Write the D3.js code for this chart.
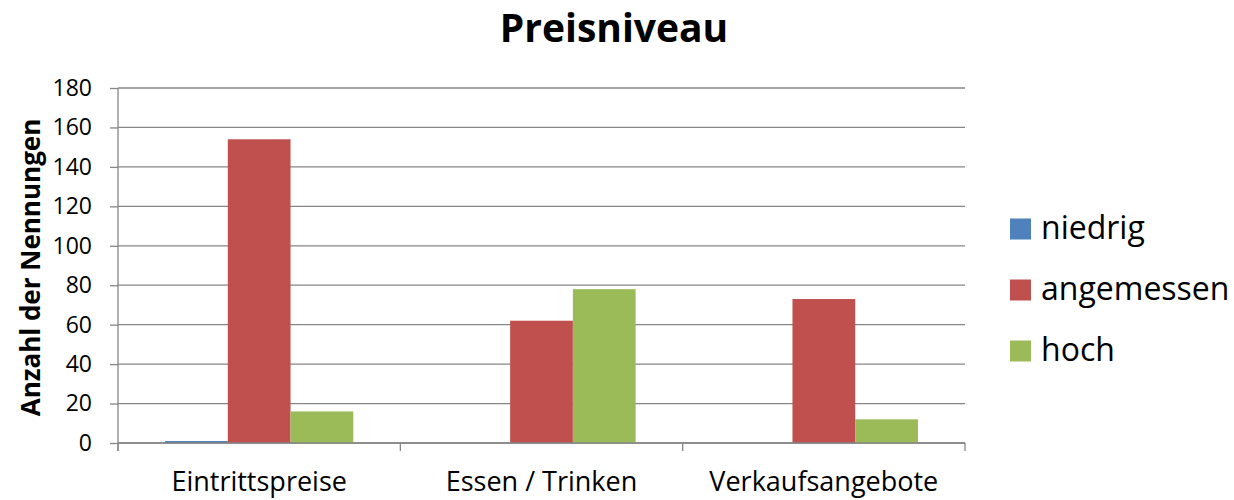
<!DOCTYPE html>
<html><head><meta charset="utf-8">
<script src="https://cdn.jsdelivr.net/npm/d3@7"></script>
<style>body{margin:0;background:#fff}svg{display:block}text{font-family:"Open Sans",sans-serif}</style>
</head><body><svg id="c" width="1234" height="500"></svg>
<script>
const categories = ["Eintrittspreise", "Essen / Trinken", "Verkaufsangebote"];
const seriesNames = ["niedrig", "angemessen", "hoch"];
const niedrig = [1, 0, 0];
const angemessen = [154, 62, 73];
const hoch = [16, 78, 12];
const yTicks = [0, 20, 40, 60, 80, 100, 120, 140, 160, 180];
const colors = ["#4F81BD", "#C0504D", "#9BBB59"];
const seriesValues = [niedrig, angemessen, hoch];

const svg = d3.select("#c");
const L = 118, R = 965, T = 88, B = 443;
const x = d3.scaleBand().domain(categories).range([L, R]).paddingInner(0).paddingOuter(0);
const y = d3.scaleLinear().domain([0, 180]).range([B, T]);
const inner = d3.scaleBand().domain(seriesNames).range([0, x.bandwidth()]).paddingInner(0).paddingOuter(0.75);

// gridlines
svg.append("g").selectAll("line").data(yTicks).join("line")
  .attr("x1", L).attr("x2", R).attr("y1", d => y(d)).attr("y2", d => y(d))
  .attr("stroke", "#868686").attr("stroke-width", 1.3);

// bars
seriesNames.forEach((s, i) => {
  svg.append("g").selectAll("rect").data(categories).join("rect")
    .attr("x", c => x(c) + inner(s))
    .attr("width", inner.bandwidth())
    .attr("y", (c, j) => y(seriesValues[i][j]))
    .attr("height", (c, j) => B - y(seriesValues[i][j]))
    .attr("fill", colors[i]);
});

// y axis
const yAxis = d3.axisLeft(y).tickValues(yTicks).tickSize(8).tickPadding(18);
const gy = svg.append("g").attr("transform", `translate(${L},0)`).call(yAxis);
gy.select(".domain").attr("stroke", "#868686").attr("stroke-width", 1.3).attr("d", `M-0,${T}V${B+8}`);
gy.selectAll(".tick line").attr("stroke", "#868686").attr("stroke-width", 1.3);
gy.selectAll(".tick text").attr("font-size", 23).attr("fill", "#000").attr("font-family", "Open Sans");

// x axis
const gx = svg.append("g").attr("transform", `translate(0,${B})`);
gx.append("line").attr("x1", L).attr("x2", R).attr("y1", 0).attr("y2", 0).attr("stroke", "#868686").attr("stroke-width", 1.3);
const bounds = [L].concat(categories.map(c => x(c) + x.bandwidth()));
gx.selectAll("line.tk").data(bounds).join("line").attr("class", "tk")
  .attr("x1", d => d).attr("x2", d => d).attr("y1", 0).attr("y2", 8)
  .attr("stroke", "#868686").attr("stroke-width", 1.3);
gx.selectAll("text").data(categories).join("text")
  .attr("x", d => x(d) + x.bandwidth() / 2).attr("y", 48)
  .attr("text-anchor", "middle").attr("font-size", 27).attr("fill", "#000")
  .text(d => d);

// title
svg.append("text").attr("x", 614).attr("y", 42).attr("text-anchor", "middle")
  .attr("font-size", 39).attr("font-weight", "bold").text("Preisniveau");

// y title
svg.append("text").attr("transform", `translate(40,${(T + B) / 2 + 2}) rotate(-90)`)
  .attr("text-anchor", "middle").attr("font-size", 26).attr("font-weight", "bold")
  .text("Anzahl der Nennungen");

// legend
const lg = svg.append("g");
seriesNames.forEach((s, i) => {
  const cy = 229 + i * 61;
  lg.append("rect").attr("x", 1010).attr("y", cy - 10.5).attr("width", 21).attr("height", 21).attr("fill", colors[i]);
  lg.append("text").attr("x", 1041).attr("y", cy + 10).attr("font-size", 32).attr("fill", "#000").text(s);
});
</script></body></html>
